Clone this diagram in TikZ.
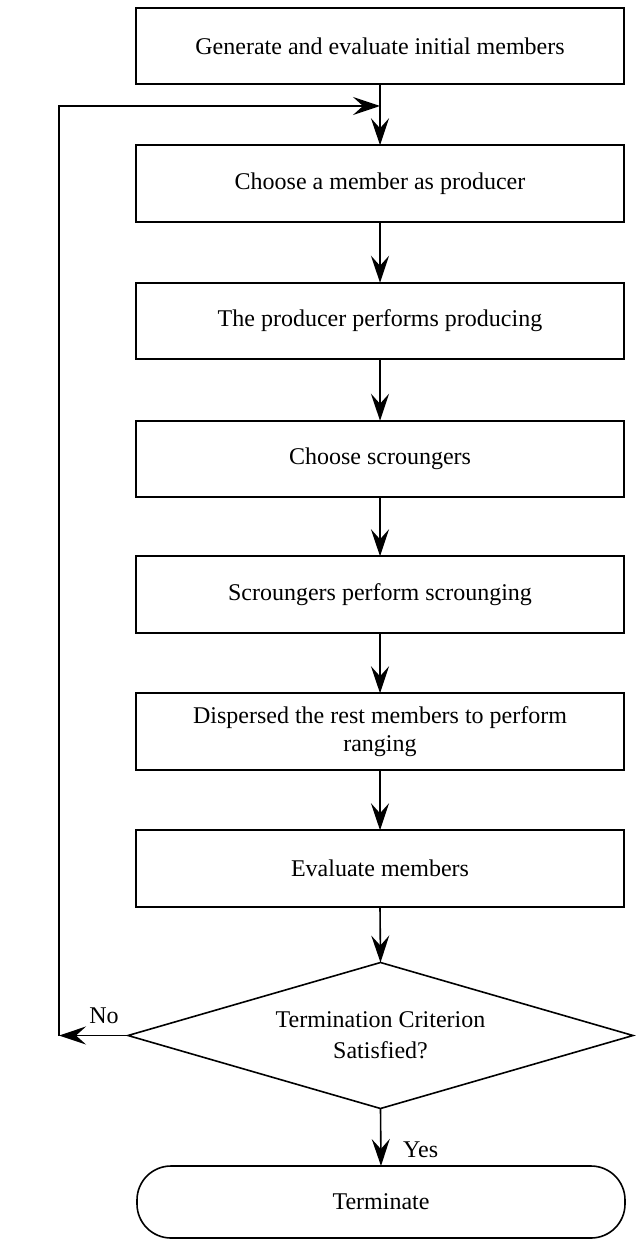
\documentclass[tikz,border=0pt]{standalone}
\usepackage{fontspec}
\setmainfont{Liberation Serif}
\usetikzlibrary{shapes.geometric,arrows.meta}
\begin{document}
\begin{tikzpicture}[x=1pt,y=-1pt,
  every node/.style={font=\fontsize{24}{28}\selectfont},
  procbox/.style={draw,line width=1.6pt,minimum width=488pt,minimum height=76.5pt,inner sep=0pt,outer sep=0pt,align=center},
  decbox/.style={draw,line width=1.6pt,diamond,aspect=3.46,minimum width=505pt,minimum height=146pt,inner sep=0pt,outer sep=0pt,align=center,font=\fontsize{24}{31}\selectfont},
  termbox/.style={draw,line width=1.6pt,rounded corners=34pt,minimum width=488pt,minimum height=72pt,inner sep=0pt,outer sep=0pt},
  arr/.style={line width=1.6pt,-{Stealth[length=27pt,width=18pt,inset=10pt]}},
  lbl/.style={inner sep=0pt}]
\useasboundingbox (0,0) rectangle (637,1241);
\node[procbox] (b1) at (380,46) {Generate and evaluate initial members};
\node[procbox] (b2) at (380,183.5) {Choose a member as producer};
\node[procbox] (b3) at (380,321) {The producer performs producing};
\node[procbox] (b4) at (380,459) {Choose scroungers};
\node[procbox] (b5) at (380,594.5) {Scroungers perform scrounging};
\node[procbox] (b6) at (380,731.5) {Dispersed the rest members to perform\\ranging};
\node[procbox] (b7) at (380,868.5) {Evaluate members};
\node[decbox] (d) at (380.5,1035.5) {Termination Criterion\\Satisfied?};
\node[termbox] (t) at (381,1202) {Terminate};
\coordinate (loopa) at (59,1035.5);
\coordinate (loopb) at (59,106);
\coordinate (loopc) at (380,106);
\draw[arr] (b1.south) -- (b2.north);
\draw[arr] (b2.south) -- (b3.north);
\draw[arr] (b3.south) -- (b4.north);
\draw[arr] (b4.south) -- (b5.north);
\draw[arr] (b5.south) -- (b6.north);
\draw[arr] (b6.south) -- (b7.north);
\draw[arr] (b7.south) -- (d.north);
\draw[arr] (d.south) -- (t.north);
\draw[arr] (d.west) -- (loopa);
\draw[arr] (loopa) -- (loopb) -- (loopc);
\node[lbl,anchor=west] (yes) at (403,1150) {Yes};
\node[lbl] (no) at (104,1016) {No};
\end{tikzpicture}
\end{document}
